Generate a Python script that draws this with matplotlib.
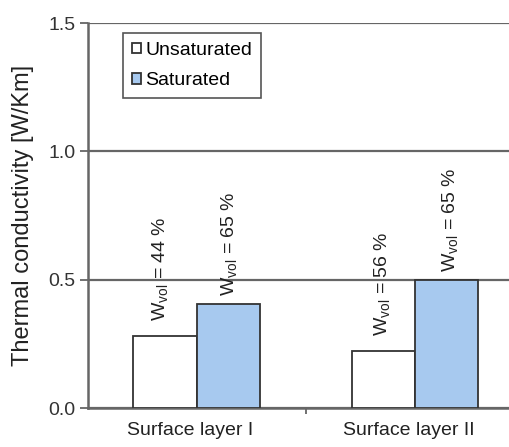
import matplotlib.pyplot as plt
import numpy as np

plt.rcParams['font.family'] = ['Liberation Sans', 'DejaVu Sans']
plt.rcParams['mathtext.fontset'] = 'custom'
plt.rcParams['mathtext.rm'] = 'Liberation Sans'

# Data
layers = ['Surface layer I', 'Surface layer II']
unsaturated = [0.28, 0.222]
saturated = [0.405, 0.50]
w_unsat = [44, 56]
w_sat = [65, 65]

line_col = '#666666'
blue = '#a7c9ef'

fig = plt.figure(figsize=(5.10, 4.47), dpi=100)
ax = fig.add_axes([0.1725, 0.087, 0.84, 0.8615])

x = np.arange(len(layers))
width = 0.29
b1 = ax.bar(x - width / 2, unsaturated, width, color='white', edgecolor='#333333',
            linewidth=1.3, label='Unsaturated', zorder=3)
b2 = ax.bar(x + width / 2, saturated, width, color=blue, edgecolor='#333333',
            linewidth=1.3, label='Saturated', zorder=3)

# rotated water content labels above the bars
for rect, w, dx in zip(b1, w_unsat, [-3, 0]):
    ax.annotate(r'W$_{\rm vol}$ = %d %%' % w,
                xy=(rect.get_x() + rect.get_width() / 2, rect.get_height()),
                xytext=(dx, 11), textcoords='offset points', rotation=90,
                ha='center', va='bottom', fontsize=14, color='#222222')
for rect, w, dx in zip(b2, w_sat, [1, 3]):
    ax.annotate(r'W$_{\rm vol}$ = %d %%' % w,
                xy=(rect.get_x() + rect.get_width() / 2, rect.get_height()),
                xytext=(dx, 5.5), textcoords='offset points', rotation=90,
                ha='center', va='bottom', fontsize=14, color='#222222')

ax.set_ylim(0, 1.5)
ax.set_xlim(-0.498, 1.465)
ax.set_yticks([0.0, 0.5, 1.0, 1.5])
ax.set_yticklabels(['0.0', '0.5', '1.0', '1.5'], fontsize=14, color='#333333')
ax.yaxis.grid(True, color=line_col, linewidth=1.6, zorder=1)
ax.set_axisbelow(True)

ax.set_xticks([0.5])
ax.set_xticklabels([''])
ax.set_xticks(x - 0.03, minor=True)
ax.set_xticklabels(layers, minor=True, fontsize=14, color='#222222')
ax.tick_params(axis='x', which='minor', length=0, pad=10)
ax.tick_params(axis='x', which='major', length=4, width=1.3, color=line_col)
ax.tick_params(axis='y', length=6, width=1.3, color=line_col, pad=3)

for s in ['top', 'right']:
    ax.spines[s].set_visible(False)
for s in ['left', 'bottom']:
    ax.spines[s].set_color(line_col)
    ax.spines[s].set_linewidth(1.8)

ax.set_ylabel('Thermal conductivity [W/Km]', fontsize=17, color='#222222', labelpad=10)

leg = ax.legend(loc='upper left', bbox_to_anchor=(0.082, 0.974), fontsize=14,
                fancybox=False, handlelength=0.45, handleheight=0.45,
                handletextpad=0.25, borderpad=0.45, borderaxespad=0,
                labelspacing=0.7, edgecolor='#555555', framealpha=1)
leg.get_frame().set_linewidth(1.2)

fig.savefig('out.png', dpi=100, facecolor='white')
